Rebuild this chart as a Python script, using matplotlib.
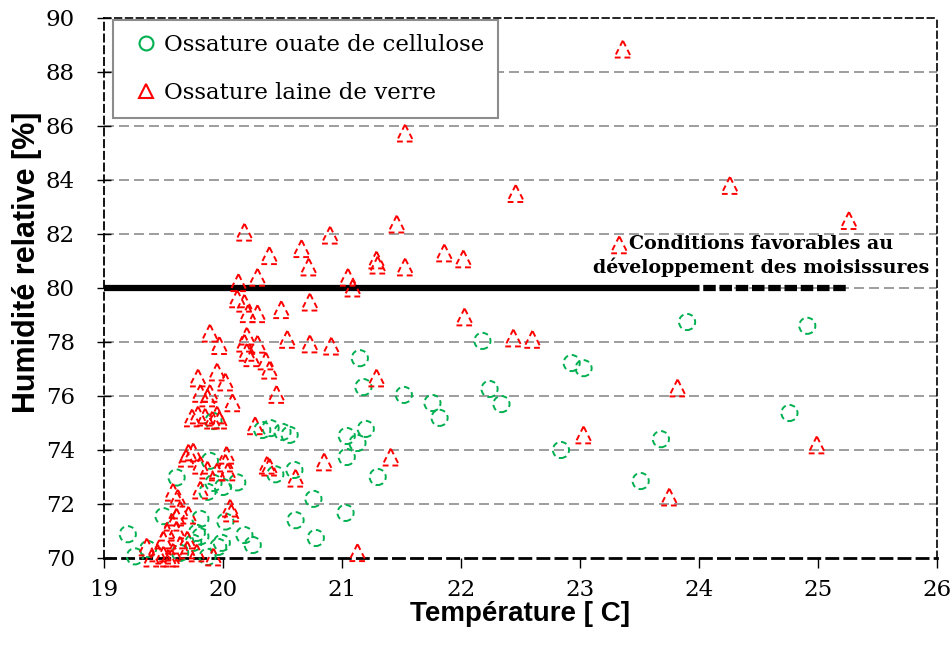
import matplotlib
matplotlib.use("Agg")
import matplotlib.pyplot as plt
from matplotlib.lines import Line2D

# ---- data ----
cellulose_t = [22.18, 23.90, 24.91, 22.93, 23.03, 22.24, 22.34, 24.76, 23.68, 22.84, 23.51,
               21.15, 21.18, 21.52, 21.76, 21.82,
               20.33, 20.40, 20.50, 20.56, 21.04, 21.20, 21.13, 21.04, 20.44, 20.60, 21.30,
               20.12, 20.76, 21.03, 20.61, 20.78,
               19.92, 19.89, 19.61, 19.92, 20.00, 19.87, 19.50, 19.81, 20.02, 19.20, 19.81,
               19.78, 20.18, 20.25, 19.99, 19.37, 19.26, 19.64, 19.75, 19.87, 19.96]
cellulose_rh = [78.04, 78.74, 78.60, 77.22, 77.03, 76.26, 75.70, 75.37, 74.40, 74.00, 72.85,
                77.40, 76.33, 76.04, 75.74, 75.19,
                74.74, 74.81, 74.67, 74.56, 74.52, 74.78, 74.26, 73.74, 73.10, 73.26, 73.00,
                72.80, 72.19, 71.67, 71.40, 70.74,
                75.07, 73.60, 72.98, 72.78, 72.63, 72.45, 71.55, 71.45, 71.35, 70.88, 70.80,
                70.93, 70.85, 70.48, 70.56, 70.33, 70.06, 70.19, 70.56, 70.04, 70.41]

verre_t = [23.36, 21.53, 24.26, 22.46, 25.26, 20.18, 21.46, 20.90, 23.33, 20.39, 20.66,
           21.86, 22.02, 21.29, 21.30, 20.72, 21.53, 21.05, 21.09, 20.13, 20.29,
           22.03, 22.44, 22.60, 23.82, 23.03, 24.99, 23.75,
           20.12, 20.18, 20.21, 20.29, 20.49, 20.73,
           19.89, 19.97, 20.20, 20.18, 20.29, 20.54, 20.73, 20.91,
           20.20, 20.24, 20.36, 20.39, 19.95, 19.79, 20.02, 21.29,
           19.81, 19.89, 19.87, 20.08, 20.45,
           19.79, 19.85, 19.91, 19.95, 19.97, 19.74, 20.27,
           19.71, 19.75, 19.69, 19.81, 19.87, 20.03, 20.02, 20.04, 19.95,
           20.37, 20.39, 20.61, 20.85, 21.41,
           19.81, 19.58, 19.62, 19.64, 19.71, 19.61, 19.57, 20.06, 20.07,
           19.53, 19.61, 19.70, 19.50, 19.36, 19.45, 19.50, 19.54, 19.40, 19.58,
           19.64, 19.70, 19.78, 19.92, 19.57, 21.13]
verre_rh = [88.85, 85.74, 83.80, 83.50, 82.50, 82.07, 82.37, 81.96, 81.60, 81.20, 81.46,
            81.30, 81.08, 81.04, 80.85, 80.78, 80.78, 80.40, 80.00, 80.20, 80.40,
            78.93, 78.15, 78.10, 76.30, 74.56, 74.19, 72.26,
            79.60, 79.44, 79.05, 79.05, 79.20, 79.48,
            78.33, 77.87, 78.22, 77.96, 77.92, 78.10, 77.93, 77.85,
            77.62, 77.42, 77.30, 76.96, 76.89, 76.67, 76.52, 76.67,
            76.10, 76.10, 75.93, 75.75, 76.06,
            75.30, 75.22, 75.11, 75.30, 75.11, 75.19, 74.90,
            73.89, 73.93, 73.70, 73.44, 73.26, 73.81, 73.52, 73.19, 73.19,
            73.44, 73.37, 72.96, 73.56, 73.74,
            72.52, 72.44, 72.22, 71.78, 71.59, 71.52, 71.33, 71.85, 71.67,
            70.96, 71.04, 70.67, 70.67, 70.41, 70.19, 70.11, 70.00, 70.00, 70.22,
            70.48, 70.30, 70.19, 70.04, 70.00, 70.20]

threshold_t = [19.0, 23.9, 25.25]
threshold_rh = 80

x_ticks = [19, 20, 21, 22, 23, 24, 25, 26]
y_ticks = [70, 72, 74, 76, 78, 80, 82, 84, 86, 88, 90]

label_cellulose = "Ossature ouate de cellulose"
label_verre = "Ossature laine de verre"
annotation = "Conditions favorables au\ndéveloppement des moisissures"

green = "#00B050"
red = "#FF0000"
serif = ["DejaVu Serif"]
sans = ["Liberation Sans", "DejaVu Sans"]

fig = plt.figure(figsize=(9.52, 6.5), dpi=100)
ax = fig.add_axes([104 / 952, 1 - 558 / 650, (937 - 104) / 952, (558 - 18) / 650])

ax.set_xlim(19, 26)
ax.set_ylim(70, 90)

# grid
for y in y_ticks[1:-1]:
    ax.axhline(y, color="#8c8c8c", lw=1.2, ls=(0, (6, 3)), zorder=1)

# threshold line
ax.plot(threshold_t[:2], [threshold_rh] * 2, color="black", lw=4.5, solid_capstyle="butt", zorder=2)
ax.plot(threshold_t[1:], [threshold_rh] * 2, color="black", lw=4.5, ls=(0, (2.0, 0.6)), zorder=2)

ax.scatter(cellulose_t, cellulose_rh, s=135, marker="o", facecolors="none",
           edgecolors=green, linewidths=1.4, linestyles=(0, (3, 2)), zorder=3, clip_on=False)
ax.scatter(verre_t, verre_rh, s=150, marker="^", facecolors="none",
           edgecolors=red, linewidths=1.4, linestyles=(0, (3, 2)), zorder=3, clip_on=False)

ax.text(24.52, 81.19, annotation, ha="center", va="center", multialignment="center",
        fontsize=13.7, fontweight="bold", family=serif, linespacing=1.25, zorder=4)

# spines
for side, lw in (("left", 1.3), ("bottom", 2.0), ("top", 1.2), ("right", 1.2)):
    ax.spines[side].set_linestyle((0, (4, 2.5)))
    ax.spines[side].set_linewidth(lw)
    ax.spines[side].set_color("black")

ax.set_xticks(x_ticks)
ax.set_yticks(y_ticks)
ax.tick_params(axis="y", direction="inout", length=10, width=1, pad=16, labelsize=16.5)
ax.tick_params(axis="x", direction="out", length=7, width=1, pad=8, labelsize=16.5)
for lab in ax.get_xticklabels() + ax.get_yticklabels():
    lab.set_family(serif)

ax.set_xlabel("Température [ C]", fontsize=20, fontweight="bold", family=sans, labelpad=0)
ax.set_ylabel("Humidité relative [%]", fontsize=22, fontweight="bold", family=sans)
ax.yaxis.set_label_coords(-0.074, 0.548)

handles = [Line2D([], [], ls="none", marker="o", markerfacecolor="none", markeredgecolor=green,
                  markersize=10, markeredgewidth=1.5),
           Line2D([], [], ls="none", marker="^", markerfacecolor="none", markeredgecolor=red,
                  markersize=10, markeredgewidth=1.5)]
leg = ax.legend(handles, [label_cellulose, label_verre], loc="upper left",
                bbox_to_anchor=(0.011, 0.996), borderaxespad=0, fancybox=False,
                prop={"family": serif, "size": 16.5}, handletextpad=0.0, handlelength=1.6,
                borderpad=0.62, labelspacing=1.1, framealpha=1)
leg.get_frame().set_edgecolor("#8c8c8c")
leg.get_frame().set_linewidth(1.5)
leg.set_zorder(5)

fig.savefig("out.png", dpi=100)
